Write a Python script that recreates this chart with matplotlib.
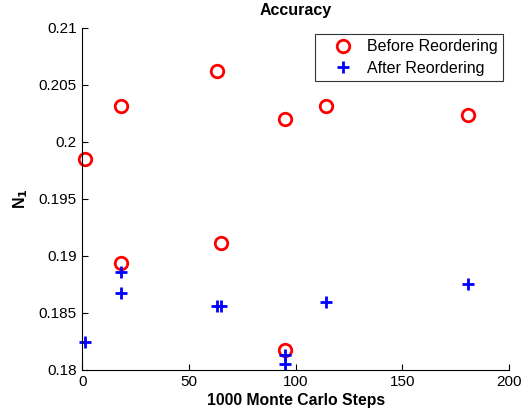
import matplotlib
matplotlib.use("Agg")
import matplotlib.pyplot as plt

plt.rcParams['font.family'] = ['Liberation Sans', 'DejaVu Sans']

steps_before = [1, 18, 18, 63, 65, 95, 95, 114, 181]
n1_before = [0.1985, 0.2031, 0.1894, 0.2062, 0.1911, 0.2020, 0.1817, 0.2031, 0.2023]
steps_after = [1, 18, 18, 63, 65, 95, 95, 114, 181]
n1_after = [0.1824, 0.1886, 0.1867, 0.1856, 0.1856, 0.1813, 0.1805, 0.1859, 0.1875]

xticks = [0, 50, 100, 150, 200]
yticks = [0.18, 0.185, 0.19, 0.195, 0.2, 0.205, 0.21]
yticklabels = ['0.18', '0.185', '0.19', '0.195', '0.2', '0.205', '0.21']

fig = plt.figure(figsize=(5.28, 4.12), dpi=100)
ax = fig.add_axes([0.156, 0.1027, 0.808, 0.830])

ax.plot(steps_before, n1_before, linestyle='none', marker='o', markersize=9,
        markerfacecolor='none', markeredgecolor='#ff0000', markeredgewidth=2,
        label='Before Reordering', clip_on=False)
ax.plot(steps_after, n1_after, linestyle='none', marker='+', markersize=9,
        markeredgecolor='#0000ff', markeredgewidth=2,
        label='After Reordering', clip_on=False)

ax.set_xlim(0, 200)
ax.set_ylim(0.18, 0.21)
ax.set_xticks(xticks)
ax.set_yticks(yticks)
ax.set_yticklabels(yticklabels)
ax.tick_params(direction='in', length=4, width=0.8, labelsize=11, pad=4)
ax.spines['top'].set_visible(False)
ax.spines['right'].set_visible(False)
for s in ['left', 'bottom']:
    ax.spines[s].set_linewidth(0.8)

ax.set_title('Accuracy', fontsize=11.5, fontweight='bold', pad=9)
ax.set_xlabel('1000 Monte Carlo Steps', fontsize=11.3, fontweight='bold', labelpad=3)
ax.set_ylabel('N$_\\mathbf{1}$', fontsize=11.5, fontweight='bold', labelpad=6)

leg = ax.legend(loc='upper right', bbox_to_anchor=(0.986, 0.982), borderaxespad=0,
                fontsize=11.5, frameon=True, fancybox=False, edgecolor='black',
                handlelength=2.8, handletextpad=0.1, borderpad=0.35,
                labelspacing=0.4, numpoints=1)
leg.get_frame().set_linewidth(0.8)

fig.savefig('out.png', dpi=100)
